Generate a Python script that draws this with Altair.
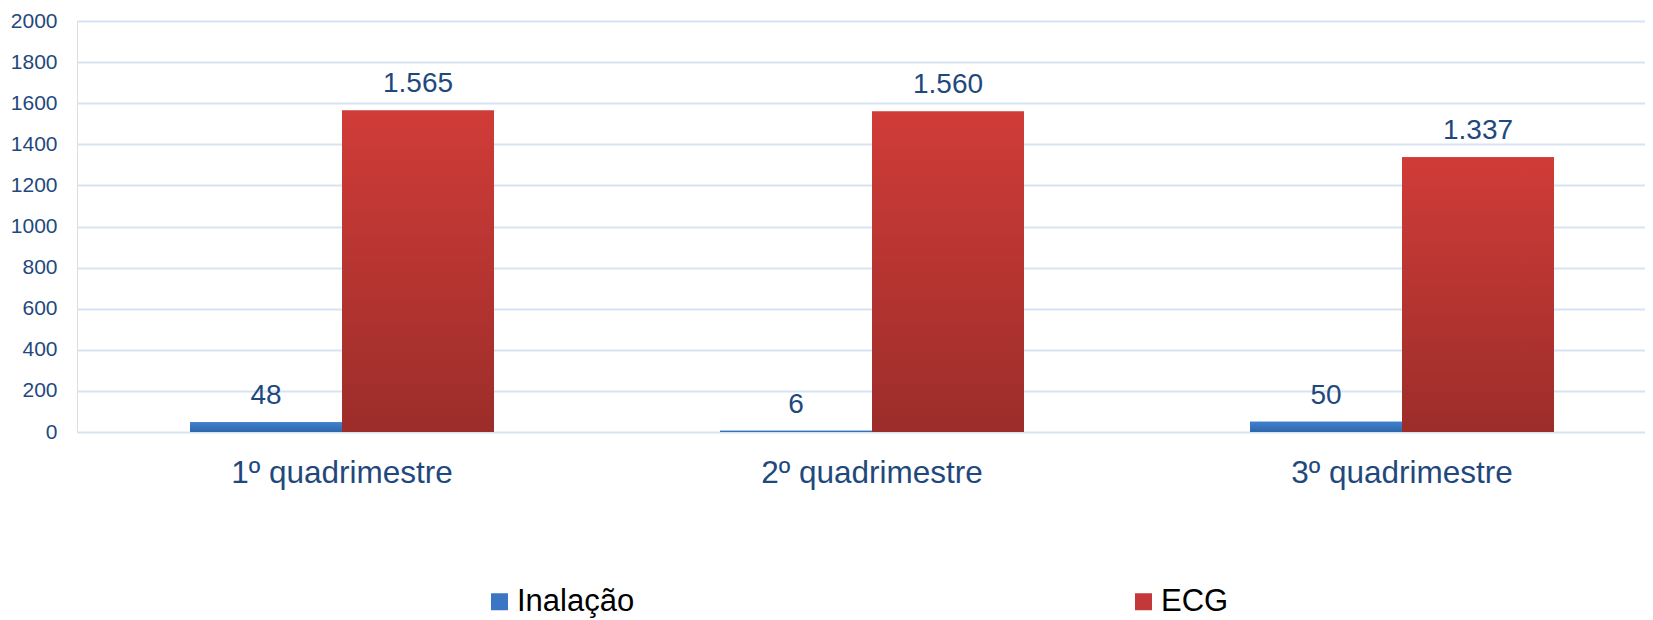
import altair as alt
import pandas as pd

categories = ["1º quadrimestre", "2º quadrimestre", "3º quadrimestre"]
series = ["Inalação", "ECG"]
inalacao = [48, 6, 50]
ecg = [1565, 1560, 1337]
y_ticks = [0, 200, 400, 600, 800, 1000, 1200, 1400, 1600, 1800, 2000]

rows = []
for c, a, b in zip(categories, inalacao, ecg):
    rows.append({"cat": c, "serie": series[0], "valor": a})
    rows.append({"cat": c, "serie": series[1], "valor": b})
df = pd.DataFrame(rows)
df["rotulo"] = df["valor"].map(lambda v: f"{v:,}".replace(",", "."))

TXT = "#1F497D"
FONT = "Liberation Sans"

blue_grad = alt.LinearGradient(
    gradient="linear", x1=0, y1=0, x2=0, y2=1,
    stops=[alt.GradientStop(color="#3F81CF", offset=0),
           alt.GradientStop(color="#2F66AB", offset=1)])
red_grad = alt.LinearGradient(
    gradient="linear", x1=0, y1=0, x2=0, y2=1,
    stops=[alt.GradientStop(color="#D03C38", offset=0),
           alt.GradientStop(color="#9C2D2A", offset=1)])

x_enc = alt.X("cat:N", sort=categories,
              scale=alt.Scale(range=[0, 1590], paddingInner=0, paddingOuter=0),
              axis=alt.Axis(title=None, labelAngle=0, labelFontSize=31.5, labelColor=TXT,
                            labelFont=FONT, labelPadding=25, ticks=False, domain=False,
                            grid=False, labelLimit=0))
xo_enc = alt.XOffset("serie:N", sort=series,
                     scale=alt.Scale(range=[113, 417], paddingInner=0, paddingOuter=0))
y_enc = alt.Y("valor:Q", scale=alt.Scale(domain=[0, 2000], nice=False),
              axis=alt.Axis(title=None, values=y_ticks, format="d", labelFontSize=21,
                            labelColor=TXT, labelFont=FONT, labelPadding=20, ticks=False,
                            domain=False, gridColor="#D6E3F3", gridWidth=2))

base = alt.Chart(df)

legend_bars = base.mark_bar().encode(
    x=x_enc, xOffset=xo_enc, y=y_enc,
    color=alt.Color("serie:N", sort=series,
                    scale=alt.Scale(domain=series, range=["#3A76C4", "#C3393A"]),
                    legend=alt.Legend(title=None, orient="none", legendX=407, legendY=565,
                                      direction="horizontal", columns=2, columnPadding=493,
                                      symbolType="square", symbolSize=289, symbolStrokeWidth=0,
                                      labelFontSize=31, labelFont=FONT, labelColor="#000000",
                                      labelOffset=2, padding=0, symbolOpacity=1))
)

bars_blue = base.transform_filter(alt.datum.serie == series[0]).mark_bar(fill=blue_grad).encode(
    x=x_enc, xOffset=xo_enc, y=y_enc)
bars_red = base.transform_filter(alt.datum.serie == series[1]).mark_bar(fill=red_grad).encode(
    x=x_enc, xOffset=xo_enc, y=y_enc)

labels = base.mark_text(font=FONT, fontSize=28, color=TXT, dy=-18, baseline="alphabetic",
                        align="center").encode(
    x=x_enc, xOffset=xo_enc, y=y_enc, text="rotulo:N")

chart = alt.layer(legend_bars, bars_blue, bars_red, labels).properties(
    width=1568, height=411,
    autosize=alt.AutoSizeParams(type="none"),
    padding={"left": 69, "top": 13, "right": 0, "bottom": 186},
).configure_view(stroke=None).configure(font=FONT)

chart.save("out.html", embed_options={"renderer": "svg", "actions": False})
